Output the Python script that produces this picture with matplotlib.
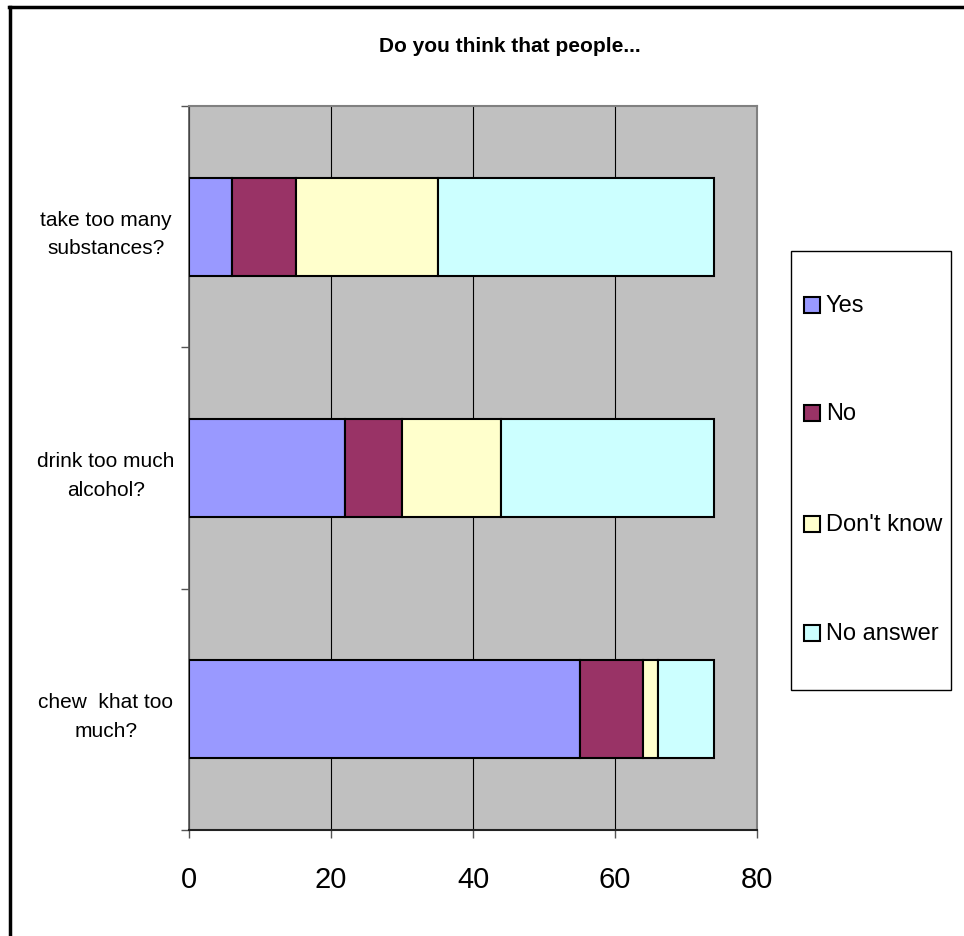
import matplotlib
matplotlib.use("Agg")
import matplotlib.pyplot as plt
from matplotlib.lines import Line2D
from matplotlib.patches import Rectangle

plt.rcParams['font.family'] = ['Liberation Sans', 'DejaVu Sans']

categories = ["chew  khat too\nmuch?", "drink too much\nalcohol?", "take too many\nsubstances?"]
series_names = ["Yes", "No", "Don't know", "No answer"]
yes = [55, 22, 6]
no = [9, 8, 9]
dont_know = [2, 14, 20]
no_answer = [8, 30, 39]
colors = ["#9999FF", "#993366", "#FFFFCC", "#CCFFFF"]
x_ticks = [0, 20, 40, 60, 80]

fig = plt.figure(figsize=(9.64, 9.37), dpi=100)
W, H = 964, 937

ax = fig.add_axes([189 / W, 1 - 831 / H, (757 - 189) / W, (831 - 107) / H])
ax.set_facecolor("#C0C0C0")

series = [yes, no, dont_know, no_answer]
left = [0] * len(categories)
pos = list(range(len(categories)))
for vals, col, name in zip(series, colors, series_names):
    ax.barh(pos, vals, left=left, height=0.405, color=col, edgecolor="black",
            linewidth=1.5, label=name, zorder=3)
    left = [a + b for a, b in zip(left, vals)]

ax.set_xlim(0, 80)
ax.set_ylim(-0.5, 2.5)
ax.set_xticks(x_ticks)
ax.set_xticklabels([str(t) for t in x_ticks], fontsize=21)
ax.xaxis.grid(True, color="black", linewidth=0.8, zorder=1)
ax.set_axisbelow(True)

ax.set_yticks(pos)
ax.set_yticklabels(categories, fontsize=15, linespacing=1.65, ha="center")
ax.tick_params(axis="y", length=0, pad=60)
ax.set_yticks([-0.5, 0.5, 1.5, 2.5], minor=True)
ax.tick_params(axis="y", which="minor", length=6, width=1, color="#555555")
ax.tick_params(axis="x", length=6, width=1, color="#555555", pad=19)

for s in ["top", "right"]:
    ax.spines[s].set_color("#808080")
    ax.spines[s].set_linewidth(1.5)
ax.spines["left"].set_color("#555555")
ax.spines["bottom"].set_color("#222222")
ax.spines["left"].set_linewidth(1.2)
ax.spines["bottom"].set_linewidth(1.5)

fig.text(510 / W, 1 - 47 / H, "Do you think that people...",
         ha="center", va="center", fontsize=15, fontweight="bold")

# Legend box
fig.add_artist(Rectangle((791 / W, 1 - 691 / H), (951 - 791) / W, (691 - 252) / H,
                         transform=fig.transFigure, facecolor="white",
                         edgecolor="black", linewidth=1.0))
legend_y = [306, 414, 525, 634]
for name, col, yy in zip(series_names, colors, legend_y):
    fig.add_artist(Rectangle((804 / W, 1 - (yy + 8) / H), 16 / W, 16 / H,
                             transform=fig.transFigure, facecolor=col,
                             edgecolor="black", linewidth=1.5))
    fig.text(826 / W, 1 - yy / H, name, ha="left", va="center", fontsize=17)

# Outer frame (top and left edges)
fig.add_artist(Line2D([9 / W, 1.0], [1 - 8 / H, 1 - 8 / H], transform=fig.transFigure,
                      color="black", linewidth=2.5))
fig.add_artist(Line2D([10 / W, 10 / W], [0, 1 - 8 / H], transform=fig.transFigure,
                      color="black", linewidth=2.5))

fig.savefig("out.png", dpi=100, facecolor="white")
